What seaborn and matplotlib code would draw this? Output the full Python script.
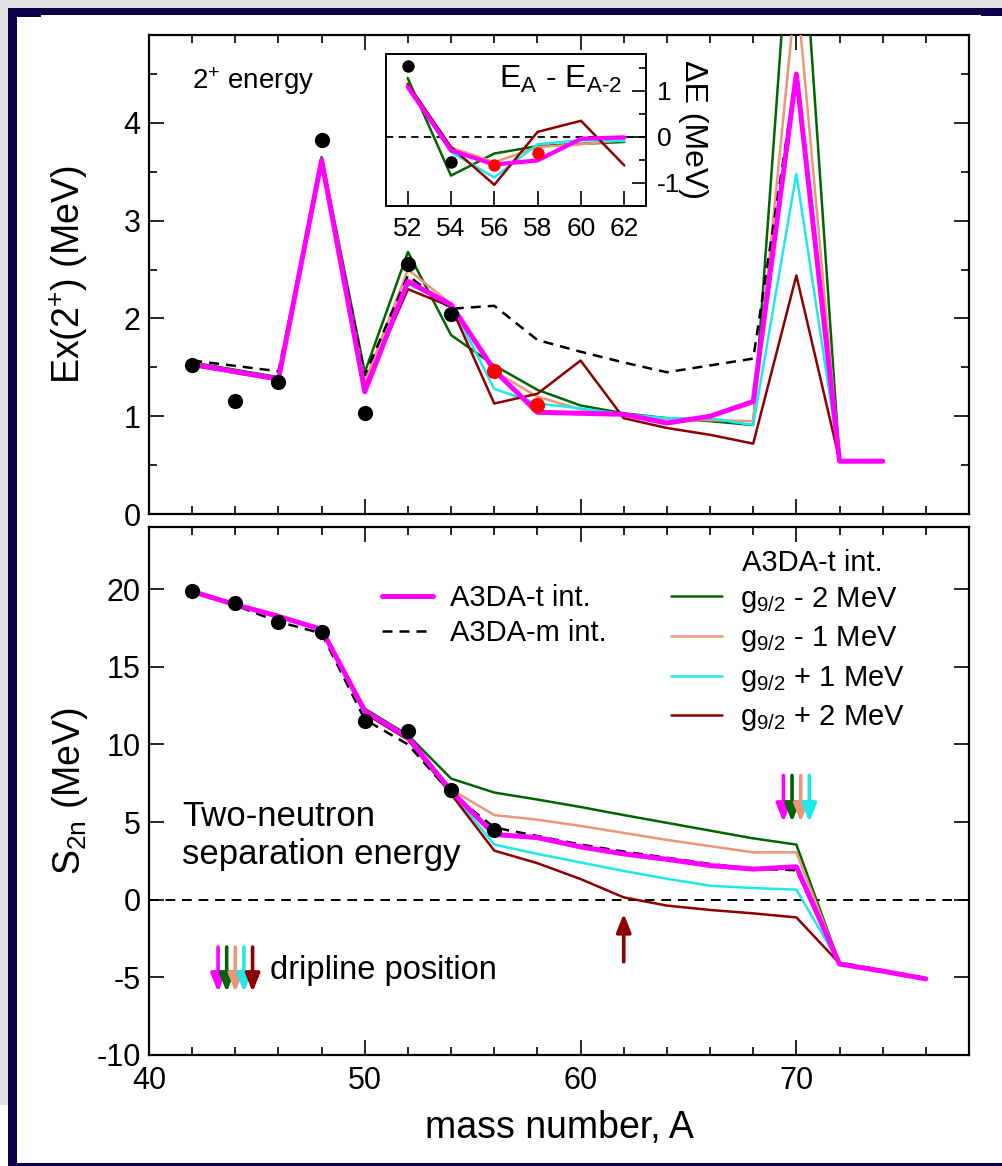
import numpy as np
import pandas as pd
import matplotlib
matplotlib.use("Agg")
import matplotlib.pyplot as plt
from matplotlib.lines import Line2D
from matplotlib.patches import Rectangle
from matplotlib.ticker import MultipleLocator
import seaborn as sns

sns.set_theme(style="ticks")
plt.rcParams["font.family"] = ["Liberation Sans", "DejaVu Sans"]
plt.rcParams["mathtext.fontset"] = "custom"
plt.rcParams["mathtext.rm"] = "Liberation Sans"
plt.rcParams["mathtext.it"] = "Liberation Sans"
plt.rcParams["mathtext.bf"] = "Liberation Sans:bold"
plt.rcParams["axes.unicode_minus"] = False
for k in ["text.color", "axes.labelcolor", "xtick.color", "ytick.color", "axes.edgecolor"]:
    plt.rcParams[k] = "black"

# ---------------- data ----------------
# 2+ energies (top panel)
A_exp = [42, 44, 46, 48, 50, 52, 54]
E_exp = [1.52, 1.16, 1.35, 3.83, 1.03, 2.56, 2.05]
A_new = [56, 58]
E_new = [1.46, 1.12]

A_calc = [42, 46, 48, 50, 52, 54, 56, 58, 60, 62, 64, 66, 68, 70, 72, 74]
E_t   = [1.53, 1.38, 3.62, 1.25, 2.38, 2.14, 1.47, 1.04, 1.03, 1.02, 0.93, 1.00, 1.15, 4.50, 0.54, 0.54]
E_m   = [1.57, 1.46, 3.58, 1.42, 2.44, 2.10, 2.13, 1.78, 1.66, 1.55, 1.45, 1.52, 1.59, 4.50, 0.55, 0.55]
E_gm2 = [1.55, 1.40, 3.65, 1.45, 2.68, 1.83, 1.52, 1.27, 1.11, 1.03, 0.98, 0.95, 0.91, 7.00, 0.55, 0.55]
E_gm1 = [1.54, 1.39, 3.63, 1.35, 2.50, 2.15, 1.46, 1.20, 1.07, 1.01, 0.97, 0.96, 0.95, 5.40, 0.55, 0.55]
E_gp1 = [1.53, 1.38, 3.62, 1.28, 2.35, 2.15, 1.28, 1.13, 1.08, 1.02, 0.98, 0.98, 0.91, 3.48, 0.55, 0.55]
E_gp2 = [1.52, 1.37, 3.60, 1.30, 2.30, 2.12, 1.13, 1.23, 1.57, 0.98, 0.88, 0.81, 0.72, 2.44, 0.55, 0.55]

# inset: E_A - E_{A-2}
A_in = [52, 54, 56, 58, 60, 62]
dE_t   = [1.09, -0.29, -0.60, -0.51, -0.04, -0.01]
dE_gm2 = [1.28, -0.84, -0.36, -0.20, -0.15, -0.11]
dE_gm1 = [1.15, -0.23, -0.55, -0.22, -0.16, -0.07]
dE_gp1 = [1.12, -0.33, -0.88, -0.16, -0.07, -0.09]
dE_gp2 = [1.15, -0.22, -1.04, 0.11, 0.35, -0.62]
A_in_exp = [52, 54]
dE_exp = [1.55, -0.55]
A_in_new = [56, 58]
dE_new = [-0.61, -0.36]

# two-neutron separation energies (bottom panel)
A_s = [42, 44, 46, 48, 50, 52, 54, 56, 58, 60, 62, 64, 66, 68, 70, 72, 74, 76]
S_t   = [19.85, 19.0, 18.25, 17.4, 12.15, 10.45, 7.0, 4.2, 4.0, 3.4, 2.95, 2.6, 2.2, 1.97, 2.12, -4.14, -4.6, -5.1]
S_m   = [19.9, 18.95, 17.9, 17.15, 11.6, 10.0, 6.85, 4.65, 4.1, 3.55, 3.1, 2.7, 2.3, 2.0, 1.9, -4.05, -4.55, -5.05]
S_gm2 = [19.85, 19.0, 18.25, 17.4, 12.3, 10.6, 7.8, 6.9, 6.45, 5.97, 5.45, 4.95, 4.45, 3.95, 3.55, -4.1, -4.6, -5.1]
S_gm1 = [19.85, 19.0, 18.25, 17.4, 12.2, 10.5, 7.1, 5.45, 5.15, 4.75, 4.3, 3.85, 3.45, 3.05, 3.05, -4.1, -4.6, -5.1]
S_gp1 = [19.85, 19.0, 18.25, 17.4, 12.1, 10.4, 6.95, 3.55, 2.95, 2.4, 1.85, 1.35, 0.9, 0.75, 0.65, -4.1, -4.6, -5.1]
S_gp2 = [19.85, 19.0, 18.25, 17.4, 12.0, 10.3, 6.8, 3.16, 2.35, 1.33, 0.15, -0.38, -0.66, -0.88, -1.14, -4.1, -4.6, -5.1]
A_s_exp = [42, 44, 46, 48, 50, 52, 54, 56]
S_exp = [19.9, 19.1, 17.86, 17.26, 11.53, 10.84, 7.06, 4.49]

# dripline arrows
drip_x = [69.4, 69.8, 70.2, 70.6]
drip_top, drip_tip = 8.0, 5.0
drip_red_x, drip_red_tail, drip_red_tip = 62.0, -4.0, -0.9
key_x = [43.2, 43.6, 44.0, 44.4, 44.8]
key_top, key_tip = -3.05, -5.95

labels_var = [r"g$_{9/2}$ - 2 MeV", r"g$_{9/2}$ - 1 MeV", r"g$_{9/2}$ + 1 MeV", r"g$_{9/2}$ + 2 MeV"]

# ---------------- style ----------------
MAG = "#ff00ff"
GRN = "#006400"
SAL = "#e9967a"
CYN = "#1ee8e8"
DRD = "#8b0000"
var_colors = [GRN, SAL, CYN, DRD]
DASH = (0, (4, 2.8))
LW = 1.8
LWT = 3.6

fig = plt.figure(figsize=(10.02, 11.66), dpi=100, facecolor="white")

# frame decoration (pixel -> figure fraction)
W, H = 1002.0, 1166.0
def rect(x0, y0, x1, y1, c):
    fig.patches.append(Rectangle((x0 / W, 1 - y1 / H), (x1 - x0) / W, (y1 - y0) / H,
                                 transform=fig.transFigure, color=c, zorder=-10, lw=0))
GRAY = "#e0e0e0"
NAVY = "#0b0047"
rect(0, 0, W, 8, GRAY)
rect(0, 0, 8, 1105, GRAY)
rect(8, 8, W, 15, NAVY)
rect(8, 8, 17, H, NAVY)
rect(17, 15, 41, 17, NAVY)
rect(981, 15, W, 16, NAVY)
rect(8, 1163, W, H, NAVY)

ax1 = fig.add_axes([149 / W, 1 - 514 / H, 820 / W, 479 / H])
ax2 = fig.add_axes([149 / W, 1 - 1055 / H, 820 / W, 528 / H])
axi = fig.add_axes([386 / W, 1 - 206 / H, 260 / W, 152 / H])

TICKFS = 22

def style_axes(ax):
    for s in ax.spines.values():
        s.set_linewidth(1.6)
        s.set_color("black")
    ax.tick_params(which="both", direction="in", top=True, right=True, color="black",
                   width=1.2, labelsize=TICKFS)
    ax.tick_params(which="major", length=11)
    ax.tick_params(which="minor", length=5.5)
    ax.tick_params(axis="x", pad=8)
    ax.tick_params(axis="y", pad=6)
    ax.set_facecolor("white")

# ---------------- top panel ----------------
series_E = [E_gm2, E_gm1, E_gp1, E_gp2]
for ys, c in zip(series_E, var_colors):
    sns.lineplot(x=A_calc, y=ys, color=c, lw=LW, ax=ax1, errorbar=None, zorder=3)
sns.lineplot(x=A_calc, y=E_m, color="black", lw=LW, linestyle=DASH, ax=ax1, errorbar=None, zorder=4)
sns.lineplot(x=A_calc, y=E_t, color=MAG, lw=LWT, ax=ax1, errorbar=None, zorder=5)
sns.scatterplot(x=A_exp, y=E_exp, color="black", s=120, linewidth=0, ax=ax1, zorder=10)
sns.scatterplot(x=A_new, y=E_new, color="#ff0000", s=120, linewidth=0, ax=ax1, zorder=10)
ax1.set_xlim(40, 78)
ax1.set_ylim(0, 4.9)
ax1.xaxis.set_major_locator(MultipleLocator(10))
ax1.xaxis.set_minor_locator(MultipleLocator(2))
ax1.yaxis.set_major_locator(MultipleLocator(1))
ax1.yaxis.set_minor_locator(MultipleLocator(0.5))
style_axes(ax1)
ax1.tick_params(axis="x", labelbottom=False)
ax1.set_ylabel(r"Ex(2$^{+}$) (MeV)", fontsize=27)
ax1.yaxis.set_label_coords(-0.072, 0.5)
ax1.set_xlabel("")
ax1.text(42.0, 4.35, r"2$^{+}$ energy", fontsize=20, ha="left", va="baseline")

# ---------------- inset ----------------
for ys, c in zip([dE_gm2, dE_gm1, dE_gp1, dE_gp2], var_colors):
    sns.lineplot(x=A_in, y=ys, color=c, lw=LW, ax=axi, errorbar=None, zorder=3)
sns.lineplot(x=A_in, y=dE_t, color=MAG, lw=LWT * 0.85, ax=axi, errorbar=None, zorder=5)
axi.axhline(0, color="black", lw=1.3, linestyle=(0, (4, 3)), zorder=2)
sns.scatterplot(x=A_in_exp, y=dE_exp, color="black", s=80, linewidth=0, ax=axi, zorder=10)
sns.scatterplot(x=A_in_new, y=dE_new, color="#ff0000", s=80, linewidth=0, ax=axi, zorder=10)
axi.set_xlim(51, 63)
axi.set_ylim(-1.5, 1.8)
axi.xaxis.set_major_locator(MultipleLocator(2))
axi.yaxis.set_major_locator(MultipleLocator(1))
axi.yaxis.set_minor_locator(MultipleLocator(0.5))
for s in axi.spines.values():
    s.set_linewidth(1.4)
    s.set_color("black")
axi.set_facecolor("white")
axi.tick_params(which="both", direction="in", top=False, left=False, right=True, bottom=True,
                labelleft=False, labelright=True, labelsize=19, width=1.2, color="black")
axi.tick_params(which="major", length=10, pad=8)
axi.tick_params(which="minor", length=5)
axi.tick_params(axis="x", which="major", length=11)
axi.yaxis.set_label_position("right")
axi.set_ylabel(r"ΔE (MeV)", fontsize=23, rotation=270, labelpad=20)
axi.set_xlabel("")
axi.text(61.9, 1.06, r"E$_{\mathrm{A}}$ - E$_{\mathrm{A\text{-}2}}$", fontsize=23, ha="right", va="baseline")

# ---------------- bottom panel ----------------
for ys, c in zip([S_gm2, S_gm1, S_gp1, S_gp2], var_colors):
    sns.lineplot(x=A_s, y=ys, color=c, lw=LW, ax=ax2, errorbar=None, zorder=3)
sns.lineplot(x=A_s, y=S_m, color="black", lw=LW, linestyle=DASH, ax=ax2, errorbar=None, zorder=4)
sns.lineplot(x=A_s, y=S_t, color=MAG, lw=LWT, ax=ax2, errorbar=None, zorder=5)
sns.scatterplot(x=A_s_exp, y=S_exp, color="black", s=120, linewidth=0, ax=ax2, zorder=10)
ax2.axhline(0, color="black", lw=1.4, linestyle=(0, (5, 3.5)), zorder=2)
ax2.set_xlim(40, 78)
ax2.set_ylim(-10, 24)
ax2.xaxis.set_major_locator(MultipleLocator(10))
ax2.xaxis.set_minor_locator(MultipleLocator(2))
ax2.yaxis.set_major_locator(MultipleLocator(5))
style_axes(ax2)
ax2.set_xlabel("mass number, A", fontsize=27)
ax2.xaxis.set_label_coords(0.5, -0.105)
ax2.set_ylabel(r"S$_{\mathrm{2n}}$ (MeV)", fontsize=27)
ax2.yaxis.set_label_coords(-0.072, 0.5)

# arrows
def arrow(ax, x, y0, y1, c):
    ax.annotate("", xy=(x, y1), xytext=(x, y0),
                arrowprops=dict(arrowstyle="-|>,head_length=0.55,head_width=0.22", color=c,
                                lw=2.6, shrinkA=0, shrinkB=0, mutation_scale=20), zorder=8)

for x, c in zip(drip_x, [MAG, GRN, SAL, CYN]):
    arrow(ax2, x, drip_top, drip_tip, c)
arrow(ax2, drip_red_x, drip_red_tail, drip_red_tip, DRD)
for x, c in zip(key_x, [MAG, GRN, SAL, CYN, DRD]):
    arrow(ax2, x, key_top, key_tip, c)

ax2.text(45.6, -5.1, "dripline position", fontsize=23.5, ha="left", va="baseline")
ax2.text(41.55, 4.76, "Two-neutron", fontsize=25, ha="left", va="baseline")
ax2.text(41.55, 2.3, "separation energy", fontsize=25, ha="left", va="baseline")

# legends
h1 = [Line2D([], [], color=MAG, lw=LWT, label="A3DA-t int."),
      Line2D([], [], color="black", lw=LW, linestyle=DASH, label="A3DA-m int.")]
leg1 = ax2.legend(handles=h1, loc="upper left", bbox_to_anchor=(0.284, 0.892), frameon=False,
                  fontsize=21, handlelength=1.75, handletextpad=0.6, labelspacing=0.25,
                  borderpad=0, borderaxespad=0)
ax2.add_artist(leg1)
h2 = [Line2D([], [], color=c, lw=LW, label=l) for c, l in zip(var_colors, labels_var)]
leg2 = ax2.legend(handles=h2, loc="upper left", bbox_to_anchor=(0.6366, 0.891), frameon=False,
                  fontsize=21, handlelength=1.75, handletextpad=0.6, labelspacing=0.33,
                  borderpad=0, borderaxespad=0)
ax2.text(0.8085, 0.931, "A3DA-t int.", transform=ax2.transAxes, fontsize=21,
         ha="center", va="center")

fig.savefig("out.png", dpi=100, facecolor=fig.get_facecolor())
